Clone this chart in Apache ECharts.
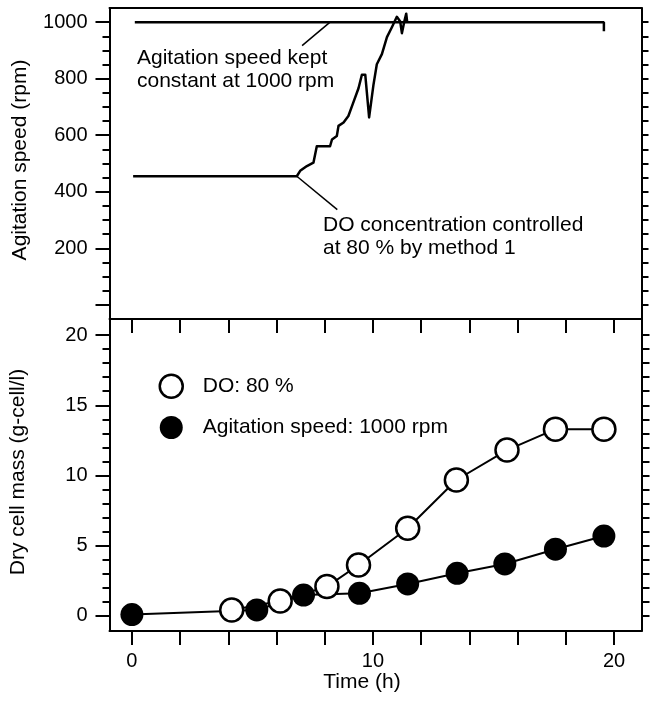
<!DOCTYPE html>
<html>
<head>
<meta charset="utf-8">
<script src="https://cdn.jsdelivr.net/npm/echarts@6/dist/echarts.min.js"></script>
<style>
  html, body { margin: 0; padding: 0; background: #fff; }
  #chart { width: 650px; height: 701px; }
</style>
</head>
<body>
<div id="chart"></div>
<script>
// Upper panel: agitation speed traces (time in h, speed in rpm)
const constTime  = [0.12, 19.58, 19.58];
const constSpeed = [1000, 1000, 968];

const doTime  = [0.05, 6.84, 6.98, 7.26, 7.53, 7.60, 7.67, 8.22, 8.30, 8.50, 8.57, 8.78, 8.98, 9.19, 9.40,
                 9.54, 9.68, 9.84, 10.02, 10.16, 10.37, 10.58, 10.79, 10.99, 11.13, 11.20, 11.30, 11.38, 11.42];
const doSpeed = [455, 455, 474, 491, 503, 532, 561, 561, 585, 597, 633, 645, 668, 717, 766,
                 814, 814, 663, 778, 851, 887, 947, 983, 1019, 1002, 961, 1002, 1030, 1000];

// Lower panel: dry cell mass (g-cell/l)
const doMassTime  = [4.14, 6.15, 8.09, 9.40, 11.44, 13.46, 15.56, 17.57, 19.58];
const doMass      = [0.43, 1.07, 2.09, 3.63, 6.24, 9.68, 11.81, 13.3, 13.3];
const agMassTime  = [0, 5.18, 7.12, 9.44, 11.44, 13.49, 15.47, 17.57, 19.58];
const agMass      = [0.1, 0.43, 1.49, 1.61, 2.28, 3.04, 3.70, 4.75, 5.69];

// Tick positions
const timeTicks   = [0, 2, 4, 6, 8, 10, 12, 14, 16, 18, 20];
const timeLabels  = [0, 10, 20];
const speedMajor  = [0, 200, 400, 600, 800, 1000];
const speedLabels = [200, 400, 600, 800, 1000];
const speedMinor  = [];
for (let v = 0; v <= 1000; v += 50) speedMinor.push(v);
const massMajor   = [0, 5, 10, 15, 20];
const massMinor   = [];
for (let v = 0; v <= 20; v += 1) massMinor.push(v);

const FONT = "'Liberation Sans', Arial, Helvetica, sans-serif";
const INK = '#000';

function zip(xs, ys) { return xs.map((x, i) => [x, ys[i]]); }

const T_MIN = -0.93, T_MAX = 21.14;
const S_MIN = -50, S_MAX = 1050;
const M_MIN = -1.07, M_MAX = 21.14;

function xAx(gridIndex, position, opts) {
  return Object.assign({
    type: 'value', gridIndex, position, min: T_MIN, max: T_MAX,
    axisLine: { show: true, onZero: false, lineStyle: { color: INK, width: 2 } },
    axisTick: { show: false },
    axisLabel: { show: false },
    splitLine: { show: false }
  }, opts);
}
function yAx(gridIndex, position, min, max, opts) {
  return Object.assign({
    type: 'value', gridIndex, position, min, max,
    axisLine: { show: true, onZero: false, lineStyle: { color: INK, width: 2 } },
    axisTick: { show: false },
    axisLabel: { show: false },
    splitLine: { show: false }
  }, opts);
}

const tickLabelStyle = { color: INK, fontSize: 20, fontFamily: FONT, formatter: (v) => String(v) };

const option = {
  animation: false,
  backgroundColor: '#fff',
  grid: [
    { left: 109.5, right: 8.5, top: 8, height: 311, containLabel: false, outerBoundsMode: 'none' },
    { left: 109.5, right: 8.5, top: 319, height: 312, containLabel: false, outerBoundsMode: 'none' }
  ],
  xAxis: [
    xAx(0, 'bottom', { axisLine: { show: false, onZero: false } }),
    xAx(0, 'top', {}),
    xAx(1, 'bottom', {
      axisTick: { show: true, customValues: timeTicks, length: 14, lineStyle: { color: INK, width: 2 } },
      axisLabel: { show: true, customValues: timeLabels, margin: 20, ...tickLabelStyle }
    }),
    xAx(1, 'top', {
      axisTick: { show: true, inside: true, customValues: timeTicks, length: 14, lineStyle: { color: INK, width: 2 } }
    })
  ],
  yAxis: [
    yAx(0, 'left', S_MIN, S_MAX, {
      axisTick: { show: true, customValues: speedMajor, length: 14, lineStyle: { color: INK, width: 2 } },
      axisLabel: { show: true, customValues: speedLabels, margin: 22, ...tickLabelStyle }
    }),
    yAx(0, 'left', S_MIN, S_MAX, {
      axisLine: { show: false, onZero: false },
      axisTick: { show: true, customValues: speedMinor, length: 7, lineStyle: { color: INK, width: 2 } }
    }),
    yAx(0, 'right', S_MIN, S_MAX, {
      axisTick: { show: true, customValues: speedMinor, length: 7, lineStyle: { color: INK, width: 2 } }
    }),
    yAx(1, 'left', M_MIN, M_MAX, {
      axisTick: { show: true, customValues: massMajor, length: 14, lineStyle: { color: INK, width: 2 } },
      axisLabel: { show: true, customValues: massMajor, margin: 22, ...tickLabelStyle }
    }),
    yAx(1, 'left', M_MIN, M_MAX, {
      axisLine: { show: false, onZero: false },
      axisTick: { show: true, customValues: massMinor, length: 7, lineStyle: { color: INK, width: 2 } }
    }),
    yAx(1, 'right', M_MIN, M_MAX, {
      axisTick: { show: true, customValues: massMinor, length: 8, lineStyle: { color: INK, width: 2 } }
    })
  ],
  legend: {
    orient: 'vertical',
    left: 158.5, top: 373.5, padding: 0,
    itemWidth: 23, itemHeight: 23, itemGap: 17,
    selectedMode: false,
    textStyle: { color: INK, fontSize: 21, fontFamily: FONT, padding: [0, 0, 0, 15] },
    data: [
      { name: 'DO: 80 %', icon: 'circle', itemStyle: { color: '#fff', borderColor: INK, borderWidth: 2.5 } },
      { name: 'Agitation speed: 1000 rpm', icon: 'circle', itemStyle: { color: INK, borderColor: INK, borderWidth: 0 } }
    ]
  },
  series: [
    {
      name: 'const', type: 'line', xAxisIndex: 0, yAxisIndex: 0,
      data: zip(constTime, constSpeed), showSymbol: false, symbol: 'none',
      lineStyle: { color: INK, width: 2.5 }, silent: true,
      markLine: {
        silent: true, symbol: 'none', label: { show: false },
        lineStyle: { color: INK, width: 1.5, type: 'solid' },
        data: [
          [{ coord: [7.06, 917] }, { coord: [8.22, 1000] }],
          [{ coord: [6.84, 455] }, { coord: [8.52, 337] }]
        ]
      }
    },
    {
      name: 'speed', type: 'line', xAxisIndex: 0, yAxisIndex: 0,
      data: zip(doTime, doSpeed), showSymbol: false, symbol: 'none',
      lineStyle: { color: INK, width: 2.5, join: 'round' }, silent: true
    },
    {
      name: 'Agitation speed: 1000 rpm', type: 'line', xAxisIndex: 2, yAxisIndex: 3,
      data: zip(agMassTime, agMass),
      symbol: 'circle', symbolSize: 23,
      itemStyle: { color: INK, borderColor: INK, borderWidth: 0 },
      lineStyle: { color: INK, width: 2 }, silent: true
    },
    {
      name: 'DO: 80 %', type: 'line', xAxisIndex: 2, yAxisIndex: 3, z: 3,
      data: zip(doMassTime, doMass),
      symbol: 'circle', symbolSize: 23,
      itemStyle: { color: '#fff', borderColor: INK, borderWidth: 2.5 },
      lineStyle: { color: INK, width: 2 }, silent: true
    }
  ],
  graphic: [
    { type: 'text', x: 137, y: 58, style: { text: 'Agitation speed kept', fill: INK, font: '21px ' + FONT, align: 'left', verticalAlign: 'middle' } },
    { type: 'text', x: 137, y: 81, style: { text: 'constant at 1000 rpm', fill: INK, font: '21px ' + FONT, align: 'left', verticalAlign: 'middle' } },
    { type: 'text', x: 323, y: 225.5, style: { text: 'DO concentration controlled', fill: INK, font: '21px ' + FONT, align: 'left', verticalAlign: 'middle' } },
    { type: 'text', x: 323, y: 248, style: { text: 'at 80 % by method 1', fill: INK, font: '21px ' + FONT, align: 'left', verticalAlign: 'middle' } },
    { type: 'text', x: 20, y: 160, rotation: Math.PI / 2, style: { text: 'Agitation speed (rpm)', fill: INK, font: '21px ' + FONT, align: 'center', verticalAlign: 'middle' } },
    { type: 'text', x: 18, y: 472, rotation: Math.PI / 2, style: { text: 'Dry cell mass (g-cell/l)', fill: INK, font: '21px ' + FONT, align: 'center', verticalAlign: 'middle' } },
    { type: 'text', x: 362, y: 682, style: { text: 'Time (h)', fill: INK, font: '21px ' + FONT, align: 'center', verticalAlign: 'middle' } }
  ]
};

const chart = echarts.init(document.getElementById('chart'), null, { renderer: 'canvas' });
chart.setOption(option);
</script>
</body>
</html>
